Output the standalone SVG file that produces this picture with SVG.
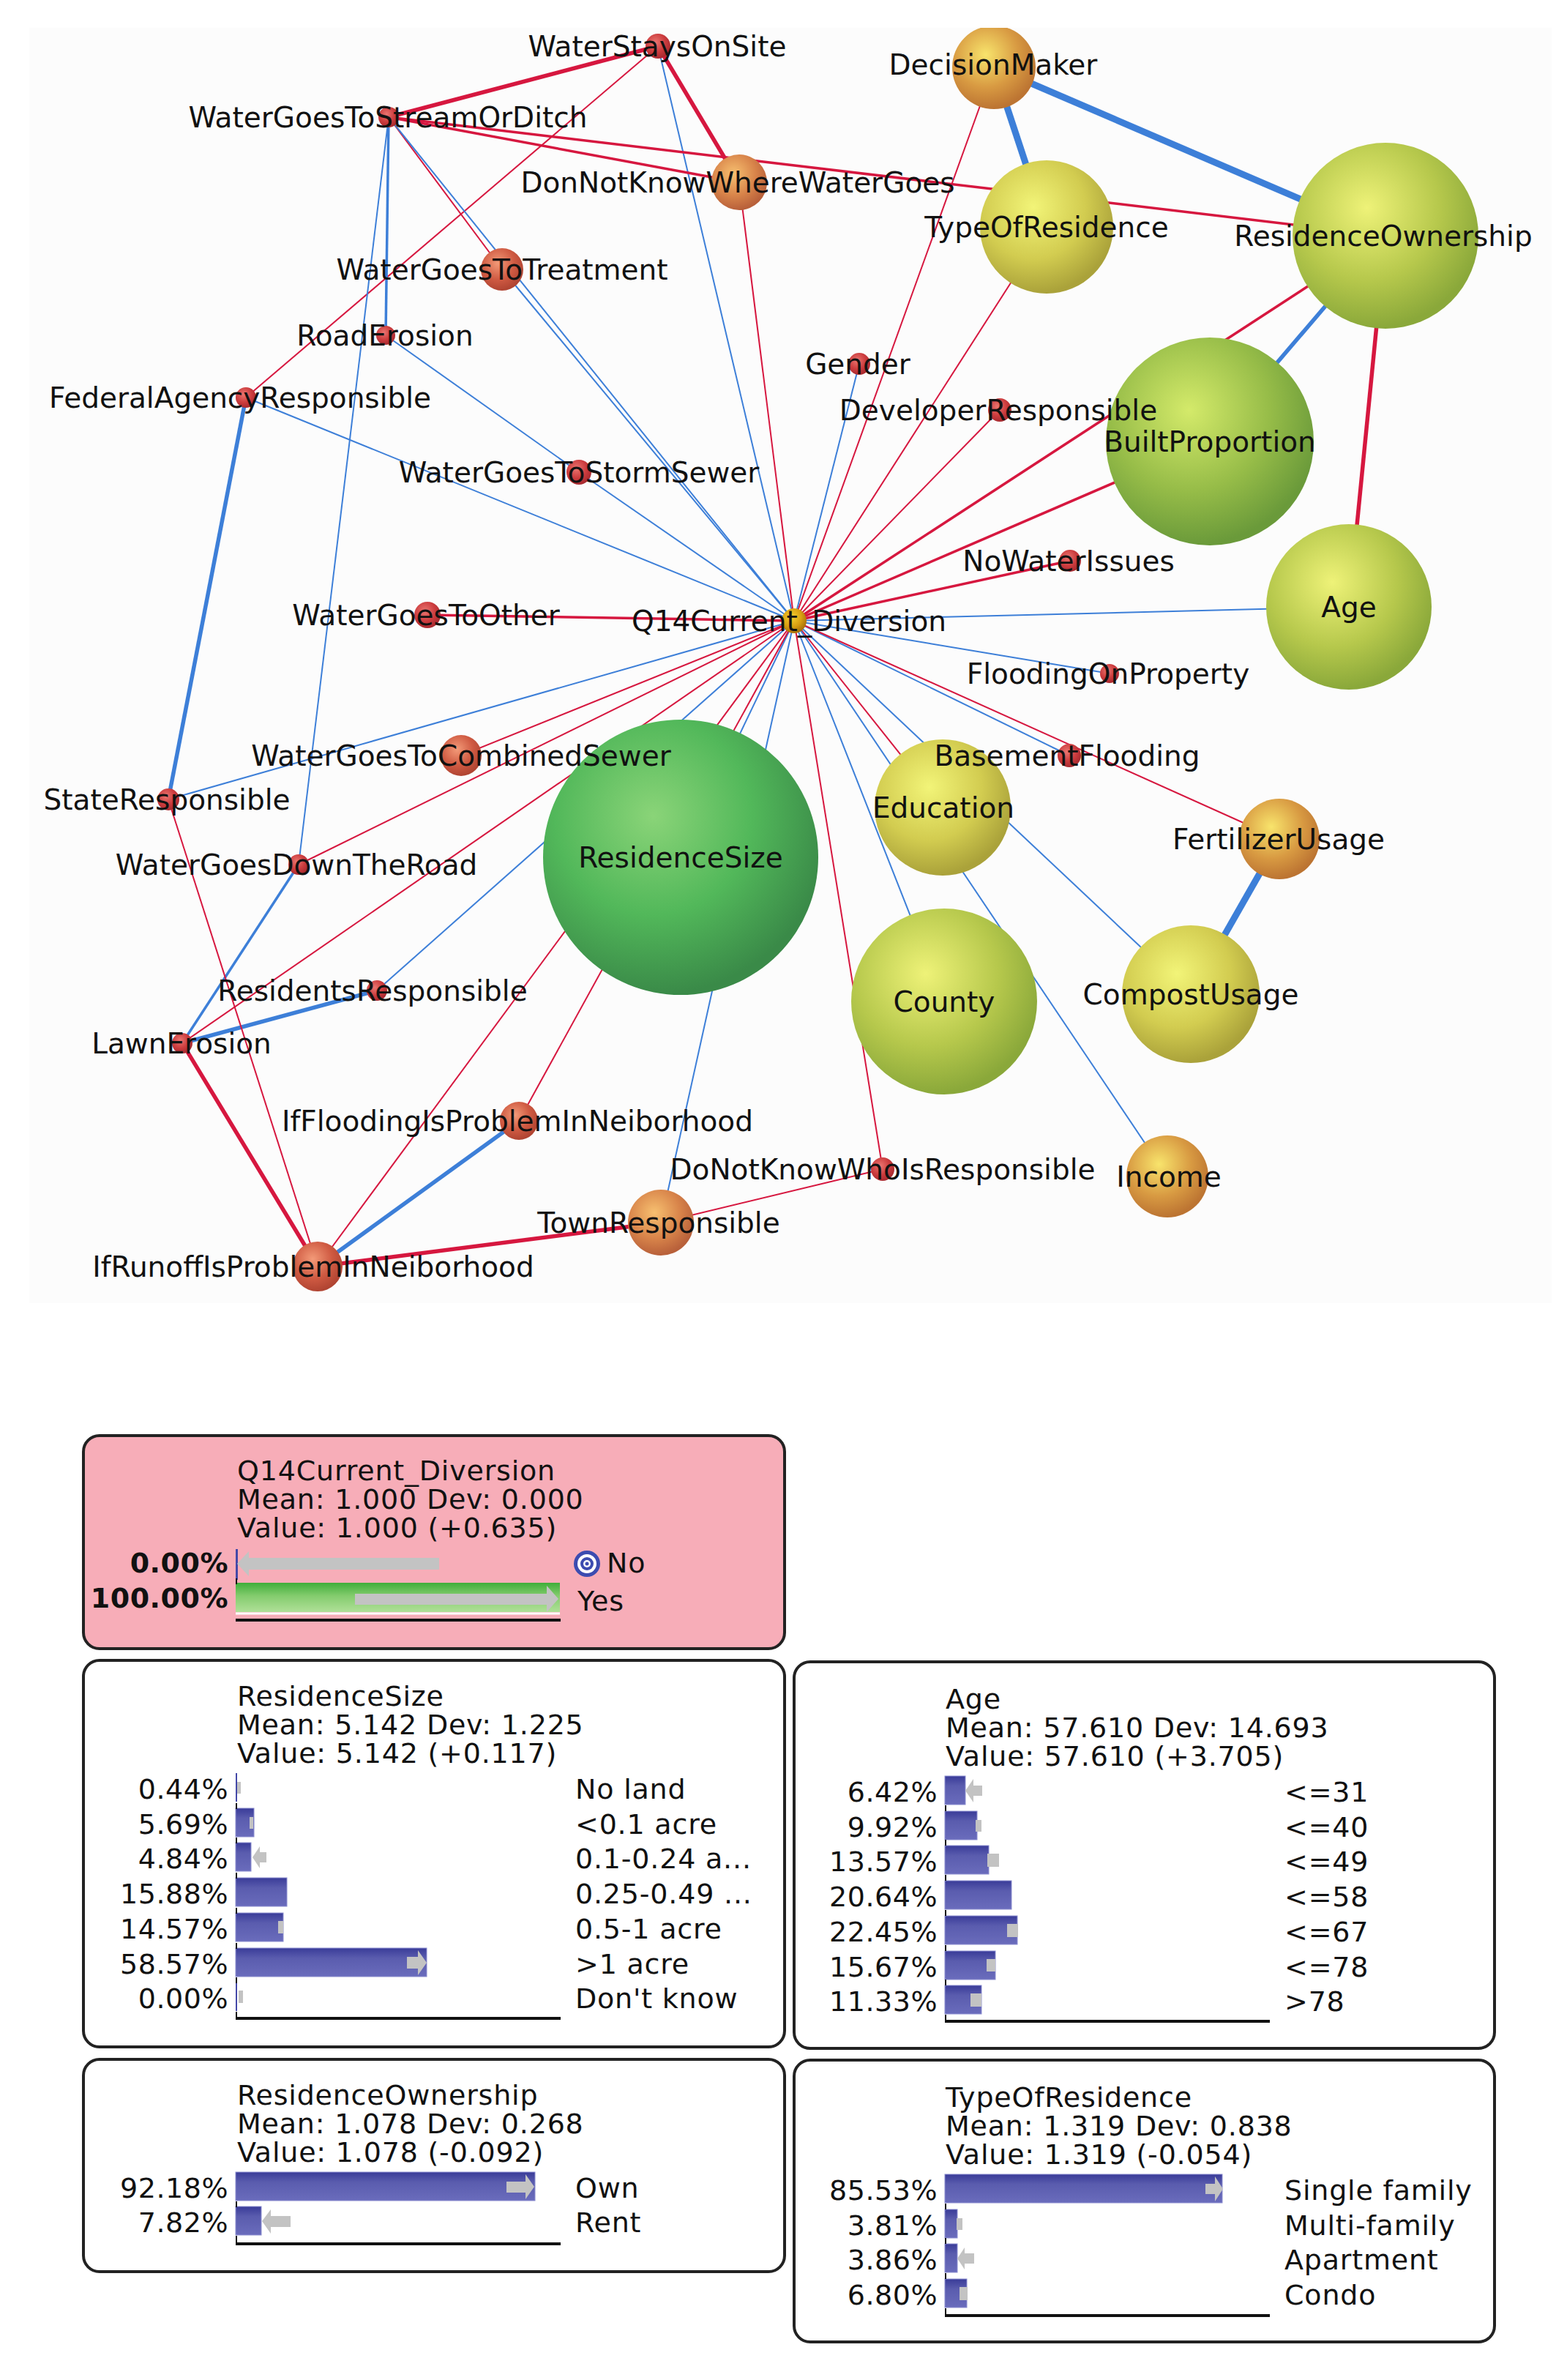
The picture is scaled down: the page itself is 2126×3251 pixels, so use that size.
<svg xmlns="http://www.w3.org/2000/svg" width="2126" height="3251" viewBox="0 0 2126 3251">
<defs>
<style>
.lbl{font-family:"DejaVu Sans","Liberation Sans",sans-serif;font-size:39px;fill:#111;text-anchor:middle}
.pt{font-family:"DejaVu Sans","Liberation Sans",sans-serif;font-size:38px;letter-spacing:0.8px;fill:#111}
.pr{font-family:"DejaVu Sans","Liberation Sans",sans-serif;font-size:38px;letter-spacing:0.5px;fill:#111;text-anchor:end}
.bold{font-weight:bold}
.er{stroke:#d6173f;fill:none}
.eb{stroke:#3d7fd8;fill:none}
.w1{stroke-width:2}
.w2{stroke-width:3.5}
.w3{stroke-width:5.5}
.w4{stroke-width:9}
.box{fill:#fff;stroke:#222;stroke-width:4}
.bar{fill:url(#gBar);stroke:#8c8ed0;stroke-width:1}
.arr{fill:#c3c3c3}
.axis{stroke:#111;stroke-width:4}
.tick{stroke:#111;stroke-width:2}
</style>
<radialGradient id="gRed" cx="40%" cy="35%" r="65%"><stop offset="0" stop-color="#ea7570"/><stop offset="0.6" stop-color="#cc3c3e"/><stop offset="1" stop-color="#a82a30"/></radialGradient>
<radialGradient id="gRedOr" cx="40%" cy="35%" r="65%"><stop offset="0" stop-color="#f39a78"/><stop offset="0.6" stop-color="#cf5a42"/><stop offset="1" stop-color="#b04432"/></radialGradient>
<radialGradient id="gOrange" cx="40%" cy="35%" r="65%"><stop offset="0" stop-color="#f7c070"/><stop offset="0.6" stop-color="#d8844a"/><stop offset="1" stop-color="#b8603a"/></radialGradient>
<radialGradient id="gAmber" cx="40%" cy="35%" r="65%"><stop offset="0" stop-color="#f8e46c"/><stop offset="0.6" stop-color="#d89a42"/><stop offset="1" stop-color="#bc7432"/></radialGradient>
<radialGradient id="gGold" cx="40%" cy="35%" r="65%"><stop offset="0" stop-color="#f7d030"/><stop offset="0.6" stop-color="#d8a012"/><stop offset="1" stop-color="#a87008"/></radialGradient>
<radialGradient id="gYellow" cx="40%" cy="35%" r="65%"><stop offset="0" stop-color="#f2f478"/><stop offset="0.6" stop-color="#d2cc50"/><stop offset="1" stop-color="#aaa23a"/></radialGradient>
<radialGradient id="gYG" cx="40%" cy="35%" r="65%"><stop offset="0" stop-color="#eef278"/><stop offset="0.6" stop-color="#b6c84c"/><stop offset="1" stop-color="#8aa83a"/></radialGradient>
<radialGradient id="gGreen1" cx="40%" cy="35%" r="65%"><stop offset="0" stop-color="#d4ea6a"/><stop offset="0.6" stop-color="#96bc48"/><stop offset="1" stop-color="#6a9a3a"/></radialGradient>
<radialGradient id="gGreen2" cx="40%" cy="35%" r="65%"><stop offset="0" stop-color="#8ad478"/><stop offset="0.55" stop-color="#52b85a"/><stop offset="1" stop-color="#3a8a48"/></radialGradient>
<linearGradient id="gBar" x1="0" y1="0" x2="0" y2="1"><stop offset="0" stop-color="#393b98"/><stop offset="0.35" stop-color="#5a5cae"/><stop offset="1" stop-color="#6a6cbc"/></linearGradient>
<linearGradient id="gGreenBar" x1="0" y1="0" x2="0" y2="1"><stop offset="0" stop-color="#3fae3a"/><stop offset="0.45" stop-color="#84cc6e"/><stop offset="1" stop-color="#b0e098"/></linearGradient>
<clipPath id="graphClip"><rect x="0" y="38" width="2126" height="1745"/></clipPath>
</defs>
<rect x="0" y="0" width="2126" height="3251" fill="#ffffff"/>
<rect x="40" y="38" width="2080" height="1742" fill="#fcfcfc"/>
<g clip-path="url(#graphClip)">
<g id="connectors">
<line class="er w3" x1="899" y1="63" x2="531" y2="160"/>
<line class="er w3" x1="899" y1="63" x2="1010" y2="249"/>
<line class="er w1" x1="899" y1="63" x2="336" y2="543"/>
<line class="eb w1" x1="899" y1="63" x2="1085" y2="848"/>
<line class="er w2" x1="531" y1="160" x2="1010" y2="249"/>
<line class="er w2" x1="531" y1="160" x2="1893" y2="322"/>
<line class="er w1" x1="531" y1="160" x2="686" y2="368"/>
<line class="eb w1" x1="531" y1="160" x2="1085" y2="848"/>
<line class="eb w1" x1="686" y1="368" x2="1085" y2="848"/>
<line class="eb w2" x1="531" y1="160" x2="527" y2="458"/>
<line class="eb w1" x1="531" y1="160" x2="408" y2="1181"/>
<line class="er w1" x1="1010" y1="249" x2="1085" y2="848"/>
<line class="eb w4" x1="1358" y1="92" x2="1430" y2="310"/>
<line class="eb w4" x1="1358" y1="92" x2="1893" y2="322"/>
<line class="er w1" x1="1358" y1="92" x2="1085" y2="848"/>
<line class="er w1" x1="1430" y1="310" x2="1085" y2="848"/>
<line class="eb w3" x1="1893" y1="322" x2="1653" y2="603"/>
<line class="er w2" x1="1893" y1="322" x2="1085" y2="848"/>
<line class="er w2" x1="1653" y1="603" x2="1085" y2="848"/>
<line class="er w3" x1="1893" y1="322" x2="1843" y2="829"/>
<line class="eb w1" x1="1843" y1="829" x2="1085" y2="848"/>
<line class="eb w1" x1="1174" y1="497" x2="1085" y2="848"/>
<line class="er w1" x1="1366" y1="560" x2="1085" y2="848"/>
<line class="er w2" x1="1462" y1="766" x2="1085" y2="848"/>
<line class="eb w1" x1="1516" y1="920" x2="1085" y2="848"/>
<line class="eb w1" x1="1461" y1="1032" x2="1085" y2="848"/>
<line class="er w1" x1="1748" y1="1146" x2="1085" y2="848"/>
<line class="eb w4" x1="1748" y1="1146" x2="1627" y2="1358"/>
<line class="er w1" x1="1288" y1="1103" x2="1085" y2="848"/>
<line class="eb w1" x1="1627" y1="1358" x2="1085" y2="848"/>
<line class="eb w1" x1="1595" y1="1607" x2="1085" y2="848"/>
<line class="eb w1" x1="1290" y1="1368" x2="1085" y2="848"/>
<line class="er w1" x1="1206" y1="1597" x2="1085" y2="848"/>
<line class="er w1" x1="903" y1="1670" x2="1206" y2="1597"/>
<line class="eb w1" x1="903" y1="1670" x2="1085" y2="848"/>
<line class="eb w1" x1="930" y1="1171" x2="1085" y2="848"/>
<line class="er w3" x1="434" y1="1730" x2="903" y2="1670"/>
<line class="eb w3" x1="434" y1="1730" x2="709" y2="1531"/>
<line class="er w1" x1="434" y1="1730" x2="1085" y2="848"/>
<line class="er w1" x1="709" y1="1531" x2="1085" y2="848"/>
<line class="er w3" x1="249" y1="1425" x2="434" y2="1730"/>
<line class="eb w3" x1="249" y1="1425" x2="515" y2="1353"/>
<line class="er w1" x1="249" y1="1425" x2="1085" y2="848"/>
<line class="eb w1" x1="515" y1="1353" x2="1085" y2="848"/>
<line class="eb w2" x1="408" y1="1181" x2="249" y2="1425"/>
<line class="er w1" x1="408" y1="1181" x2="1085" y2="848"/>
<line class="er w1" x1="630" y1="1032" x2="1085" y2="848"/>
<line class="er w1" x1="230" y1="1092" x2="434" y2="1730"/>
<line class="eb w1" x1="230" y1="1092" x2="1085" y2="848"/>
<line class="eb w3" x1="230" y1="1092" x2="336" y2="543"/>
<line class="eb w1" x1="336" y1="543" x2="1085" y2="848"/>
<line class="eb w1" x1="527" y1="458" x2="791" y2="645"/>
<line class="eb w1" x1="791" y1="645" x2="1085" y2="848"/>
<line class="er w2" x1="584" y1="840" x2="1085" y2="848"/>
</g>
<g id="node-ResidenceSize"><circle cx="930" cy="1171" r="188" fill="url(#gGreen2)"/><text class="lbl" x="930" y="1185">ResidenceSize</text></g>
<g id="node-BuiltProportion"><circle cx="1653" cy="603" r="142" fill="url(#gGreen1)"/><text class="lbl" x="1653" y="617">BuiltProportion</text></g>
<g id="node-ResidenceOwnership"><circle cx="1893" cy="322" r="127" fill="url(#gYG)"/><text class="lbl" x="1890" y="336">ResidenceOwnership</text></g>
<g id="node-County"><circle cx="1290" cy="1368" r="127" fill="url(#gYG)"/><text class="lbl" x="1290" y="1382">County</text></g>
<g id="node-Age"><circle cx="1843" cy="829" r="113" fill="url(#gYG)"/><text class="lbl" x="1843" y="843">Age</text></g>
<g id="node-TypeOfResidence"><circle cx="1430" cy="310" r="91" fill="url(#gYellow)"/><text class="lbl" x="1430" y="324">TypeOfResidence</text></g>
<g id="node-Education"><circle cx="1288" cy="1103" r="93" fill="url(#gYellow)"/><text class="lbl" x="1289" y="1117">Education</text></g>
<g id="node-CompostUsage"><circle cx="1627" cy="1358" r="94" fill="url(#gYellow)"/><text class="lbl" x="1627" y="1372">CompostUsage</text></g>
<g id="node-DecisionMaker"><circle cx="1358" cy="92" r="57" fill="url(#gAmber)"/><text class="lbl" x="1357" y="102">DecisionMaker</text></g>
<g id="node-FertilizerUsage"><circle cx="1748" cy="1146" r="55" fill="url(#gAmber)"/><text class="lbl" x="1747" y="1160">FertilizerUsage</text></g>
<g id="node-Income"><circle cx="1595" cy="1607" r="56" fill="url(#gAmber)"/><text class="lbl" x="1597" y="1621">Income</text></g>
<g id="node-TownResponsible"><circle cx="903" cy="1670" r="45" fill="url(#gOrange)"/><text class="lbl" x="900" y="1684">TownResponsible</text></g>
<g id="node-DonNotKnowWhereWaterGoes"><circle cx="1010" cy="249" r="38" fill="url(#gOrange)"/><text class="lbl" x="1008" y="263">DonNotKnowWhereWaterGoes</text></g>
<g id="node-IfRunoffIsProblemInNeiborhood"><circle cx="434" cy="1730" r="34" fill="url(#gRedOr)"/><text class="lbl" x="428" y="1744">IfRunoffIsProblemInNeiborhood</text></g>
<g id="node-IfFloodingIsProblemInNeiborhood"><circle cx="709" cy="1531" r="26" fill="url(#gRedOr)"/><text class="lbl" x="707" y="1545">IfFloodingIsProblemInNeiborhood</text></g>
<g id="node-WaterGoesToTreatment"><circle cx="686" cy="368" r="29" fill="url(#gRedOr)"/><text class="lbl" x="686" y="382">WaterGoesToTreatment</text></g>
<g id="node-WaterGoesToCombinedSewer"><circle cx="630" cy="1032" r="28" fill="url(#gRedOr)"/><text class="lbl" x="630" y="1046">WaterGoesToCombinedSewer</text></g>
<g id="node-WaterStaysOnSite"><circle cx="899" cy="63" r="17" fill="url(#gRed)"/><text class="lbl" x="898" y="77">WaterStaysOnSite</text></g>
<g id="node-WaterGoesToStreamOrDitch"><circle cx="531" cy="160" r="14" fill="url(#gRed)"/><text class="lbl" x="530" y="174">WaterGoesToStreamOrDitch</text></g>
<g id="node-RoadErosion"><circle cx="527" cy="458" r="13" fill="url(#gRed)"/><text class="lbl" x="526" y="472">RoadErosion</text></g>
<g id="node-FederalAgencyResponsible"><circle cx="336" cy="543" r="14" fill="url(#gRed)"/><text class="lbl" x="328" y="557">FederalAgencyResponsible</text></g>
<g id="node-WaterGoesToStormSewer"><circle cx="791" cy="645" r="17" fill="url(#gRed)"/><text class="lbl" x="791" y="659">WaterGoesToStormSewer</text></g>
<g id="node-WaterGoesToOther"><circle cx="584" cy="840" r="18" fill="url(#gRed)"/><text class="lbl" x="582" y="854">WaterGoesToOther</text></g>
<g id="node-Gender"><circle cx="1174" cy="497" r="15" fill="url(#gRed)"/><text class="lbl" x="1172" y="511">Gender</text></g>
<g id="node-DeveloperResponsible"><circle cx="1366" cy="560" r="16" fill="url(#gRed)"/><text class="lbl" x="1364" y="574">DeveloperResponsible</text></g>
<g id="node-NoWaterIssues"><circle cx="1462" cy="766" r="15" fill="url(#gRed)"/><text class="lbl" x="1460" y="780">NoWaterIssues</text></g>
<g id="node-FloodingOnProperty"><circle cx="1516" cy="920" r="13" fill="url(#gRed)"/><text class="lbl" x="1514" y="934">FloodingOnProperty</text></g>
<g id="node-BasementFlooding"><circle cx="1461" cy="1032" r="16" fill="url(#gRed)"/><text class="lbl" x="1458" y="1046">BasementFlooding</text></g>
<g id="node-DoNotKnowWhoIsResponsible"><circle cx="1206" cy="1597" r="16" fill="url(#gRed)"/><text class="lbl" x="1206" y="1611">DoNotKnowWhoIsResponsible</text></g>
<g id="node-StateResponsible"><circle cx="230" cy="1092" r="15" fill="url(#gRed)"/><text class="lbl" x="228" y="1106">StateResponsible</text></g>
<g id="node-WaterGoesDownTheRoad"><circle cx="408" cy="1181" r="14" fill="url(#gRed)"/><text class="lbl" x="405" y="1195">WaterGoesDownTheRoad</text></g>
<g id="node-ResidentsResponsible"><circle cx="515" cy="1353" r="14" fill="url(#gRed)"/><text class="lbl" x="509" y="1367">ResidentsResponsible</text></g>
<g id="node-LawnErosion"><circle cx="249" cy="1425" r="14" fill="url(#gRed)"/><text class="lbl" x="248" y="1439">LawnErosion</text></g>
<g id="node-Q14Current_Diversion"><circle cx="1085" cy="848" r="17" fill="url(#gGold)"/><text class="lbl" x="1078" y="862">Q14Current_Diversion</text></g>
</g>

<g id="panel-Q14Current_Diversion">
<rect x="114" y="1961" width="958" height="291" rx="22" fill="#f7adb8" stroke="#222" stroke-width="4"/>
<text class="pt" x="324" y="2022">Q14Current_Diversion</text>
<text class="pt" x="324" y="2061">Mean: 1.000 Dev: 0.000</text>
<text class="pt" x="324" y="2100">Value: 1.000 (+0.635)</text>
<text class="pr bold" x="312" y="2148">0.00%</text>
<text class="pr bold" x="312" y="2196">100.00%</text>
<rect x="322" y="2116" width="3" height="42" fill="#4448a8"/>
<path class="arr" d="M324,2136 L340,2119 L340,2128 L600,2128 L600,2144 L340,2144 L340,2153 Z"/>
<rect x="322" y="2162" width="443" height="40" fill="url(#gGreenBar)"/>
<line x1="322" y1="2204" x2="765" y2="2204" stroke="#fff" stroke-width="3"/>
<path class="arr" d="M485,2177 L747,2177 L747,2166 L763,2184 L747,2202 L747,2192 L485,2192 Z"/>
<line class="axis" x1="322" y1="2213" x2="766" y2="2213"/>
<line class="tick" x1="323" y1="2156" x2="323" y2="2164"/>
<circle cx="802" cy="2136" r="18" fill="#3c4cb0"/>
<circle cx="802" cy="2136" r="13" fill="#fff"/>
<circle cx="802" cy="2136" r="9" fill="#3c4cb0"/>
<circle cx="802" cy="2136" r="5" fill="#fff"/>
<circle cx="802" cy="2136" r="2.5" fill="#3c4cb0"/>
<text class="pt" x="829" y="2148">No</text>
<text class="pt" x="789" y="2200">Yes</text>
</g>

<g id="panel-ResidenceSize">
<rect class="box" x="114" y="2268" width="958" height="528" rx="22"/>
<text class="pt" x="324" y="2330">ResidenceSize</text>
<text class="pt" x="324" y="2369">Mean: 5.142 Dev: 1.225</text>
<text class="pt" x="324" y="2408">Value: 5.142 (+0.117)</text>
<text class="pr" x="312" y="2457">0.44%</text>
<text class="pr" x="312" y="2505">5.69%</text>
<text class="pr" x="312" y="2552">4.84%</text>
<text class="pr" x="312" y="2600">15.88%</text>
<text class="pr" x="312" y="2648">14.57%</text>
<text class="pr" x="312" y="2696">58.57%</text>
<text class="pr" x="312" y="2743">0.00%</text>
<text class="pt" x="786" y="2457">No land</text>
<text class="pt" x="786" y="2505">&lt;0.1 acre</text>
<text class="pt" x="786" y="2552">0.1-0.24 a...</text>
<text class="pt" x="786" y="2600">0.25-0.49 ...</text>
<text class="pt" x="786" y="2648">0.5-1 acre</text>
<text class="pt" x="786" y="2696">&gt;1 acre</text>
<text class="pt" x="786" y="2743">Don't know</text>
<rect x="322" y="2422" width="2" height="39" fill="#4448a8"/>
<rect class="bar" x="322" y="2470" width="25" height="39"/>
<rect class="bar" x="322" y="2517" width="21" height="39"/>
<rect class="bar" x="322" y="2565" width="70" height="39"/>
<rect class="bar" x="322" y="2613" width="65" height="39"/>
<rect class="bar" x="322" y="2661" width="261" height="39"/>
<rect x="322" y="2708" width="2" height="39" fill="#4448a8"/>
<rect class="arr" x="324" y="2434" width="5" height="16"/>
<rect class="arr" x="341" y="2482" width="5" height="16"/>
<path class="arr" d="M345,2537 L355,2522 L355,2530 L364,2530 L364,2544 L355,2544 L355,2552 Z"/>
<rect class="arr" x="380" y="2624" width="7" height="17"/>
<path class="arr" d="M556,2673 L571,2673 L571,2664 L583,2681 L571,2698 L571,2689 L556,2689 Z"/>
<rect class="arr" x="326" y="2719" width="6" height="17"/>
<line class="tick" x1="323" y1="2463" x2="323" y2="2471"/>
<line class="tick" x1="323" y1="2510" x2="323" y2="2518"/>
<line class="tick" x1="323" y1="2558" x2="323" y2="2566"/>
<line class="tick" x1="323" y1="2606" x2="323" y2="2614"/>
<line class="tick" x1="323" y1="2654" x2="323" y2="2662"/>
<line class="tick" x1="323" y1="2701" x2="323" y2="2709"/>
<line class="tick" x1="323" y1="2748" x2="323" y2="2757"/>
<line class="axis" x1="322" y1="2757" x2="766" y2="2757"/>
</g>

<g id="panel-Age">
<rect class="box" x="1085" y="2270" width="957" height="528" rx="22"/>
<text class="pt" x="1292" y="2334">Age</text>
<text class="pt" x="1292" y="2373">Mean: 57.610 Dev: 14.693</text>
<text class="pt" x="1292" y="2412">Value: 57.610 (+3.705)</text>
<text class="pr" x="1281" y="2461">6.42%</text>
<text class="pr" x="1281" y="2509">9.92%</text>
<text class="pr" x="1281" y="2556">13.57%</text>
<text class="pr" x="1281" y="2604">20.64%</text>
<text class="pr" x="1281" y="2652">22.45%</text>
<text class="pr" x="1281" y="2700">15.67%</text>
<text class="pr" x="1281" y="2747">11.33%</text>
<text class="pt" x="1755" y="2461">&lt;=31</text>
<text class="pt" x="1755" y="2509">&lt;=40</text>
<text class="pt" x="1755" y="2556">&lt;=49</text>
<text class="pt" x="1755" y="2604">&lt;=58</text>
<text class="pt" x="1755" y="2652">&lt;=67</text>
<text class="pt" x="1755" y="2700">&lt;=78</text>
<text class="pt" x="1755" y="2747">&gt;78</text>
<rect class="bar" x="1291" y="2426" width="28" height="39"/>
<rect class="bar" x="1291" y="2474" width="44" height="39"/>
<rect class="bar" x="1291" y="2521" width="60" height="39"/>
<rect class="bar" x="1291" y="2569" width="91" height="39"/>
<rect class="bar" x="1291" y="2617" width="99" height="39"/>
<rect class="bar" x="1291" y="2665" width="69" height="39"/>
<rect class="bar" x="1291" y="2712" width="50" height="39"/>
<path class="arr" d="M1319,2446 L1330,2430 L1330,2439 L1342,2439 L1342,2453 L1330,2453 L1330,2462 Z"/>
<rect class="arr" x="1333" y="2486" width="8" height="16"/>
<rect class="arr" x="1349" y="2532" width="16" height="18"/>
<rect class="arr" x="1376" y="2628" width="15" height="18"/>
<rect class="arr" x="1348" y="2676" width="12" height="17"/>
<rect class="arr" x="1326" y="2723" width="15" height="18"/>
<line class="tick" x1="1292" y1="2466" x2="1292" y2="2474"/>
<line class="tick" x1="1292" y1="2513" x2="1292" y2="2521"/>
<line class="tick" x1="1292" y1="2561" x2="1292" y2="2569"/>
<line class="tick" x1="1292" y1="2609" x2="1292" y2="2617"/>
<line class="tick" x1="1292" y1="2657" x2="1292" y2="2665"/>
<line class="tick" x1="1292" y1="2704" x2="1292" y2="2712"/>
<line class="tick" x1="1292" y1="2752" x2="1292" y2="2761"/>
<line class="axis" x1="1291" y1="2761" x2="1735" y2="2761"/>
</g>

<g id="panel-ResidenceOwnership">
<rect class="box" x="114" y="2813" width="958" height="290" rx="22"/>
<text class="pt" x="324" y="2875">ResidenceOwnership</text>
<text class="pt" x="324" y="2914">Mean: 1.078 Dev: 0.268</text>
<text class="pt" x="324" y="2953">Value: 1.078 (-0.092)</text>
<text class="pr" x="312" y="3002">92.18%</text>
<text class="pr" x="312" y="3049">7.82%</text>
<text class="pt" x="786" y="3002">Own</text>
<text class="pt" x="786" y="3049">Rent</text>
<rect class="bar" x="322" y="2967" width="409" height="39"/>
<rect class="bar" x="322" y="3014" width="35" height="39"/>
<path class="arr" d="M692,2980 L718,2980 L718,2970 L730,2987 L718,3004 L718,2995 L692,2995 Z"/>
<path class="arr" d="M358,3034 L370,3018 L370,3027 L397,3027 L397,3042 L370,3042 L370,3051 Z"/>
<line class="tick" x1="323" y1="3007" x2="323" y2="3015"/>
<line class="tick" x1="323" y1="3054" x2="323" y2="3065"/>
<line class="axis" x1="322" y1="3065" x2="766" y2="3065"/>
</g>

<g id="panel-TypeOfResidence">
<rect class="box" x="1085" y="2814" width="957" height="385" rx="22"/>
<text class="pt" x="1292" y="2878">TypeOfResidence</text>
<text class="pt" x="1292" y="2917">Mean: 1.319 Dev: 0.838</text>
<text class="pt" x="1292" y="2956">Value: 1.319 (-0.054)</text>
<text class="pr" x="1281" y="3005">85.53%</text>
<text class="pr" x="1281" y="3053">3.81%</text>
<text class="pr" x="1281" y="3100">3.86%</text>
<text class="pr" x="1281" y="3148">6.80%</text>
<text class="pt" x="1755" y="3005">Single family</text>
<text class="pt" x="1755" y="3053">Multi-family</text>
<text class="pt" x="1755" y="3100">Apartment</text>
<text class="pt" x="1755" y="3148">Condo</text>
<rect class="bar" x="1291" y="2970" width="379" height="39"/>
<rect class="bar" x="1291" y="3018" width="17" height="39"/>
<rect class="bar" x="1291" y="3065" width="17" height="39"/>
<rect class="bar" x="1291" y="3113" width="30" height="39"/>
<path class="arr" d="M1647,2983 L1660,2983 L1660,2973 L1671,2990 L1660,3007 L1660,2997 L1647,2997 Z"/>
<rect class="arr" x="1307" y="3030" width="8" height="16"/>
<path class="arr" d="M1308,3085 L1318,3070 L1318,3078 L1331,3078 L1331,3092 L1318,3092 L1318,3100 Z"/>
<rect class="arr" x="1311" y="3124" width="11" height="18"/>
<line class="tick" x1="1292" y1="3010" x2="1292" y2="3018"/>
<line class="tick" x1="1292" y1="3057" x2="1292" y2="3065"/>
<line class="tick" x1="1292" y1="3105" x2="1292" y2="3113"/>
<line class="tick" x1="1292" y1="3153" x2="1292" y2="3163"/>
<line class="axis" x1="1291" y1="3163" x2="1735" y2="3163"/>
</g>
</svg>
